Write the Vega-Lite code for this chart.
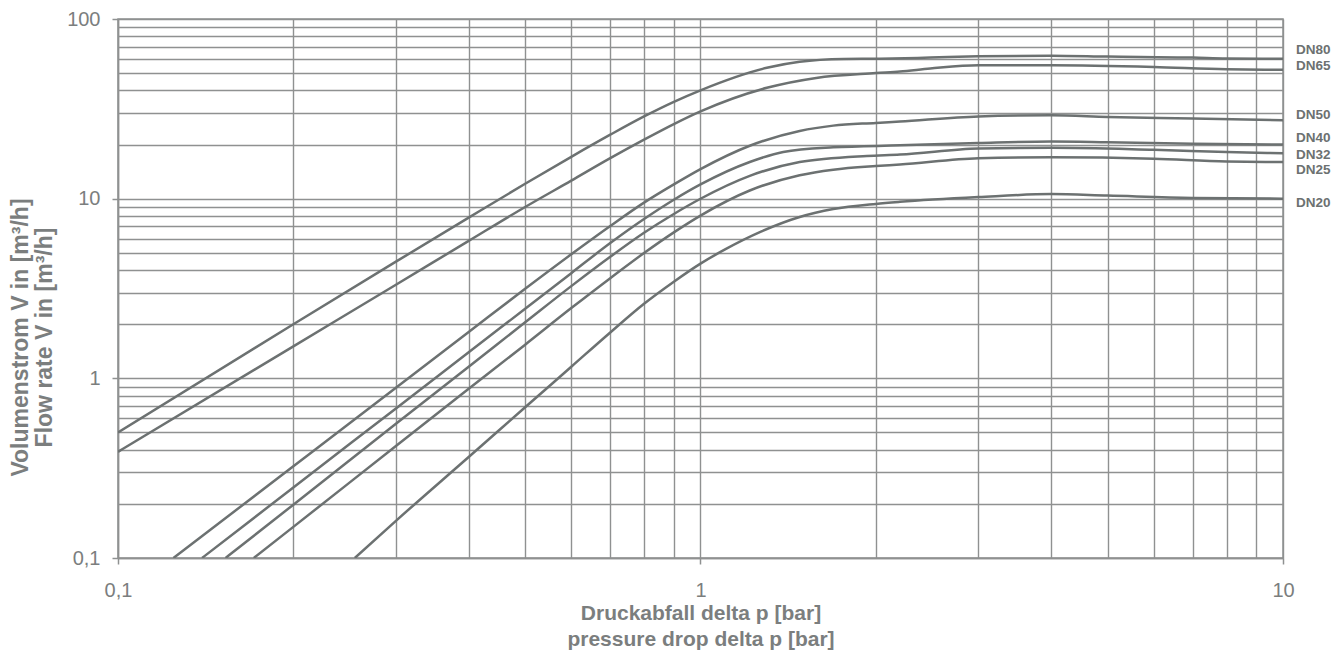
{
  "$schema": "https://vega.github.io/schema/vega-lite/v6.json",
  "width": 1165,
  "height": 539,
  "autosize": "none",
  "padding": {"left": 118, "top": 19, "right": 49, "bottom": 93},
  "background": "white",
  "config": {
    "view": {"stroke": "#8f9191", "strokeWidth": 1.5},
    "font": "Liberation Sans"
  },
  "datasets": {
    "curves": [
      {"s": "DN80", "dp": 0.1, "q": 0.5},
      {"s": "DN80", "dp": 0.2, "q": 2.0},
      {"s": "DN80", "dp": 0.3, "q": 4.46},
      {"s": "DN80", "dp": 0.4, "q": 7.84},
      {"s": "DN80", "dp": 0.5, "q": 12.1},
      {"s": "DN80", "dp": 0.6, "q": 17.1},
      {"s": "DN80", "dp": 0.7, "q": 22.7},
      {"s": "DN80", "dp": 0.8, "q": 28.7},
      {"s": "DN80", "dp": 0.9, "q": 34.6},
      {"s": "DN80", "dp": 1.0, "q": 40.1},
      {"s": "DN80", "dp": 1.3, "q": 53.5},
      {"s": "DN80", "dp": 1.48, "q": 57.8},
      {"s": "DN80", "dp": 1.76, "q": 59.9},
      {"s": "DN80", "dp": 2.03, "q": 60.1},
      {"s": "DN80", "dp": 2.48, "q": 61},
      {"s": "DN80", "dp": 3, "q": 62},
      {"s": "DN80", "dp": 4, "q": 62.5},
      {"s": "DN80", "dp": 5, "q": 61.8},
      {"s": "DN80", "dp": 7, "q": 61},
      {"s": "DN80", "dp": 8, "q": 60.3},
      {"s": "DN80", "dp": 10, "q": 60},
      {"s": "DN65", "dp": 0.1, "q": 0.39},
      {"s": "DN65", "dp": 0.2, "q": 1.507},
      {"s": "DN65", "dp": 0.3, "q": 3.32},
      {"s": "DN65", "dp": 0.4, "q": 5.82},
      {"s": "DN65", "dp": 0.5, "q": 8.99},
      {"s": "DN65", "dp": 0.6, "q": 12.6},
      {"s": "DN65", "dp": 0.7, "q": 16.8},
      {"s": "DN65", "dp": 0.8, "q": 21.3},
      {"s": "DN65", "dp": 0.9, "q": 26.0},
      {"s": "DN65", "dp": 1.0, "q": 30.6},
      {"s": "DN65", "dp": 1.3, "q": 41.4},
      {"s": "DN65", "dp": 1.58, "q": 47},
      {"s": "DN65", "dp": 2.0, "q": 50},
      {"s": "DN65", "dp": 2.2, "q": 51},
      {"s": "DN65", "dp": 2.48, "q": 53},
      {"s": "DN65", "dp": 3, "q": 55.3},
      {"s": "DN65", "dp": 4, "q": 55.3},
      {"s": "DN65", "dp": 6, "q": 54.1},
      {"s": "DN65", "dp": 8, "q": 52.5},
      {"s": "DN65", "dp": 10, "q": 52.2},
      {"s": "DN50", "dp": 0.1245, "q": 0.1},
      {"s": "DN50", "dp": 0.2, "q": 0.324},
      {"s": "DN50", "dp": 0.3, "q": 0.886},
      {"s": "DN50", "dp": 0.4, "q": 1.81},
      {"s": "DN50", "dp": 0.5, "q": 3.15},
      {"s": "DN50", "dp": 0.6, "q": 4.9},
      {"s": "DN50", "dp": 0.7, "q": 7.04},
      {"s": "DN50", "dp": 0.8, "q": 9.5},
      {"s": "DN50", "dp": 0.9, "q": 12.0},
      {"s": "DN50", "dp": 1.0, "q": 14.6},
      {"s": "DN50", "dp": 1.215, "q": 19.7},
      {"s": "DN50", "dp": 1.48, "q": 23.8},
      {"s": "DN50", "dp": 1.69, "q": 25.5},
      {"s": "DN50", "dp": 2.0, "q": 26.4},
      {"s": "DN50", "dp": 2.2, "q": 26.9},
      {"s": "DN50", "dp": 3, "q": 28.7},
      {"s": "DN50", "dp": 4, "q": 29.1},
      {"s": "DN50", "dp": 5, "q": 28.5},
      {"s": "DN50", "dp": 7, "q": 27.9},
      {"s": "DN50", "dp": 10, "q": 27.3},
      {"s": "DN40", "dp": 0.1394, "q": 0.1},
      {"s": "DN40", "dp": 0.2, "q": 0.247},
      {"s": "DN40", "dp": 0.3, "q": 0.68},
      {"s": "DN40", "dp": 0.4, "q": 1.396},
      {"s": "DN40", "dp": 0.5, "q": 2.44},
      {"s": "DN40", "dp": 0.6, "q": 3.85},
      {"s": "DN40", "dp": 0.7, "q": 5.66},
      {"s": "DN40", "dp": 0.8, "q": 7.7},
      {"s": "DN40", "dp": 0.9, "q": 9.86},
      {"s": "DN40", "dp": 1.0, "q": 12.0},
      {"s": "DN40", "dp": 1.215, "q": 16.0},
      {"s": "DN40", "dp": 1.387, "q": 18.2},
      {"s": "DN40", "dp": 1.69, "q": 19.3},
      {"s": "DN40", "dp": 2.2, "q": 19.8},
      {"s": "DN40", "dp": 3, "q": 20.4},
      {"s": "DN40", "dp": 4, "q": 20.8},
      {"s": "DN40", "dp": 5, "q": 20.6},
      {"s": "DN40", "dp": 7, "q": 20.2},
      {"s": "DN40", "dp": 10, "q": 20.0},
      {"s": "DN32", "dp": 0.153, "q": 0.1},
      {"s": "DN32", "dp": 0.2, "q": 0.198},
      {"s": "DN32", "dp": 0.3, "q": 0.558},
      {"s": "DN32", "dp": 0.4, "q": 1.16},
      {"s": "DN32", "dp": 0.5, "q": 2.05},
      {"s": "DN32", "dp": 0.6, "q": 3.26},
      {"s": "DN32", "dp": 0.7, "q": 4.75},
      {"s": "DN32", "dp": 0.8, "q": 6.46},
      {"s": "DN32", "dp": 0.9, "q": 8.22},
      {"s": "DN32", "dp": 1.0, "q": 9.99},
      {"s": "DN32", "dp": 1.215, "q": 13.4},
      {"s": "DN32", "dp": 1.48, "q": 16.0},
      {"s": "DN32", "dp": 1.93, "q": 17.3},
      {"s": "DN32", "dp": 2.2, "q": 17.6},
      {"s": "DN32", "dp": 3, "q": 19.0},
      {"s": "DN32", "dp": 4, "q": 19.2},
      {"s": "DN32", "dp": 6, "q": 18.7},
      {"s": "DN32", "dp": 8, "q": 18.2},
      {"s": "DN32", "dp": 10, "q": 17.9},
      {"s": "DN25", "dp": 0.171, "q": 0.1},
      {"s": "DN25", "dp": 0.2, "q": 0.149},
      {"s": "DN25", "dp": 0.3, "q": 0.42},
      {"s": "DN25", "dp": 0.4, "q": 0.874},
      {"s": "DN25", "dp": 0.5, "q": 1.54},
      {"s": "DN25", "dp": 0.6, "q": 2.46},
      {"s": "DN25", "dp": 0.7, "q": 3.61},
      {"s": "DN25", "dp": 0.8, "q": 4.98},
      {"s": "DN25", "dp": 0.9, "q": 6.49},
      {"s": "DN25", "dp": 1.0, "q": 8.05},
      {"s": "DN25", "dp": 1.215, "q": 11.1},
      {"s": "DN25", "dp": 1.48, "q": 13.5},
      {"s": "DN25", "dp": 1.69, "q": 14.5},
      {"s": "DN25", "dp": 2.0, "q": 15.2},
      {"s": "DN25", "dp": 2.2, "q": 15.5},
      {"s": "DN25", "dp": 3, "q": 16.8},
      {"s": "DN25", "dp": 4, "q": 17.0},
      {"s": "DN25", "dp": 6, "q": 16.7},
      {"s": "DN25", "dp": 8, "q": 16.1},
      {"s": "DN25", "dp": 10, "q": 16.0},
      {"s": "DN20", "dp": 0.255, "q": 0.1},
      {"s": "DN20", "dp": 0.3, "q": 0.161},
      {"s": "DN20", "dp": 0.4, "q": 0.365},
      {"s": "DN20", "dp": 0.5, "q": 0.69},
      {"s": "DN20", "dp": 0.6, "q": 1.16},
      {"s": "DN20", "dp": 0.7, "q": 1.8},
      {"s": "DN20", "dp": 0.8, "q": 2.6},
      {"s": "DN20", "dp": 0.9, "q": 3.45},
      {"s": "DN20", "dp": 1.0, "q": 4.35},
      {"s": "DN20", "dp": 1.1, "q": 5.2},
      {"s": "DN20", "dp": 1.27, "q": 6.55},
      {"s": "DN20", "dp": 1.48, "q": 7.9},
      {"s": "DN20", "dp": 1.69, "q": 8.75},
      {"s": "DN20", "dp": 2.0, "q": 9.35},
      {"s": "DN20", "dp": 2.2, "q": 9.6},
      {"s": "DN20", "dp": 3, "q": 10.2},
      {"s": "DN20", "dp": 4, "q": 10.6},
      {"s": "DN20", "dp": 5, "q": 10.4},
      {"s": "DN20", "dp": 7, "q": 10.1},
      {"s": "DN20", "dp": 10, "q": 10.0}
    ],
    "labels": [
      {"s": "DN80", "dp": 10, "q": 66.9},
      {"s": "DN65", "dp": 10, "q": 54.5},
      {"s": "DN50", "dp": 10, "q": 29.1},
      {"s": "DN40", "dp": 10, "q": 21.7},
      {"s": "DN32", "dp": 10, "q": 17.5},
      {"s": "DN25", "dp": 10, "q": 14.4},
      {"s": "DN20", "dp": 10, "q": 9.42}
    ]
  },
  "layer": [
    {
      "data": {"name": "curves"},
      "mark": {"type": "line", "color": "#6c7171", "strokeWidth": 2.5, "interpolate": "monotone", "clip": true},
      "encoding": {
        "x": {
          "field": "dp", "type": "quantitative",
          "scale": {"type": "log", "domain": [0.1, 10], "nice": false},
          "axis": {
            "values": [0.1, 0.2, 0.3, 0.4, 0.5, 0.6, 0.7, 0.8, 0.9, 1, 2, 3, 4, 5, 6, 7, 8, 9, 10],
            "labelExpr": "datum.value == 0.1 ? '0,1' : datum.value == 1 ? '1' : datum.value == 10 ? '10' : ''",
            "labelOverlap": false, "labelBound": false, "labelFlush": false,
            "labelFontSize": 20, "labelColor": "#7b7e7e", "labelPadding": 16,
            "tickSize": 6, "tickWidth": 1.5, "tickColor": "#8f9191",
            "tickOpacity": {"condition": {"test": "datum.value == 0.1 || datum.value == 1 || datum.value == 10", "value": 1}, "value": 0},
            "grid": true, "gridColor": "#8f9191", "gridWidth": 1.4, "gridOpacity": 1,
            "domainColor": "#8f9191", "domainWidth": 1.5,
            "title": ["Druckabfall delta p [bar]", "pressure drop delta p [bar]"],
            "titleFontSize": 21, "titleFontWeight": "bold", "titleColor": "#7b7e7e",
            "titleLineHeight": 26, "titlePadding": 2
          }
        },
        "y": {
          "field": "q", "type": "quantitative",
          "scale": {"type": "log", "domain": [0.1, 100], "nice": false},
          "axis": {
            "values": [0.1, 0.2, 0.3, 0.4, 0.5, 0.6, 0.7, 0.8, 0.9, 1, 2, 3, 4, 5, 6, 7, 8, 9, 10, 20, 30, 40, 50, 60, 70, 80, 90, 100],
            "labelExpr": "datum.value == 0.1 ? '0,1' : datum.value == 1 ? '1' : datum.value == 10 ? '10' : datum.value == 100 ? '100' : ''",
            "labelOverlap": false, "labelBound": false, "labelFlush": false,
            "labelFontSize": 20, "labelColor": "#7b7e7e", "labelPadding": 12,
            "tickSize": 6, "tickWidth": 1.5, "tickColor": "#8f9191",
            "tickOpacity": {"condition": {"test": "datum.value == 0.1 || datum.value == 1 || datum.value == 10 || datum.value == 100", "value": 1}, "value": 0},
            "grid": true, "gridColor": "#8f9191", "gridWidth": 1.4, "gridOpacity": 1,
            "domainColor": "#8f9191", "domainWidth": 1.5,
            "title": ["Volumenstrom V in [m³/h]", "Flow rate V in [m³/h]"],
            "titleFontSize": 23, "titleFontWeight": "bold", "titleColor": "#7b7e7e",
            "titleLineHeight": 24, "titlePadding": 10, "titleY": 318
          }
        },
        "detail": {"field": "s", "type": "nominal"}
      }
    },
    {
      "data": {"name": "labels"},
      "mark": {"type": "text", "align": "left", "baseline": "middle", "dx": 13, "fontSize": 13.5, "fontWeight": "bold", "color": "#6c7171"},
      "encoding": {
        "x": {"field": "dp", "type": "quantitative"},
        "y": {"field": "q", "type": "quantitative"},
        "text": {"field": "s", "type": "nominal"}
      }
    }
  ]
}
